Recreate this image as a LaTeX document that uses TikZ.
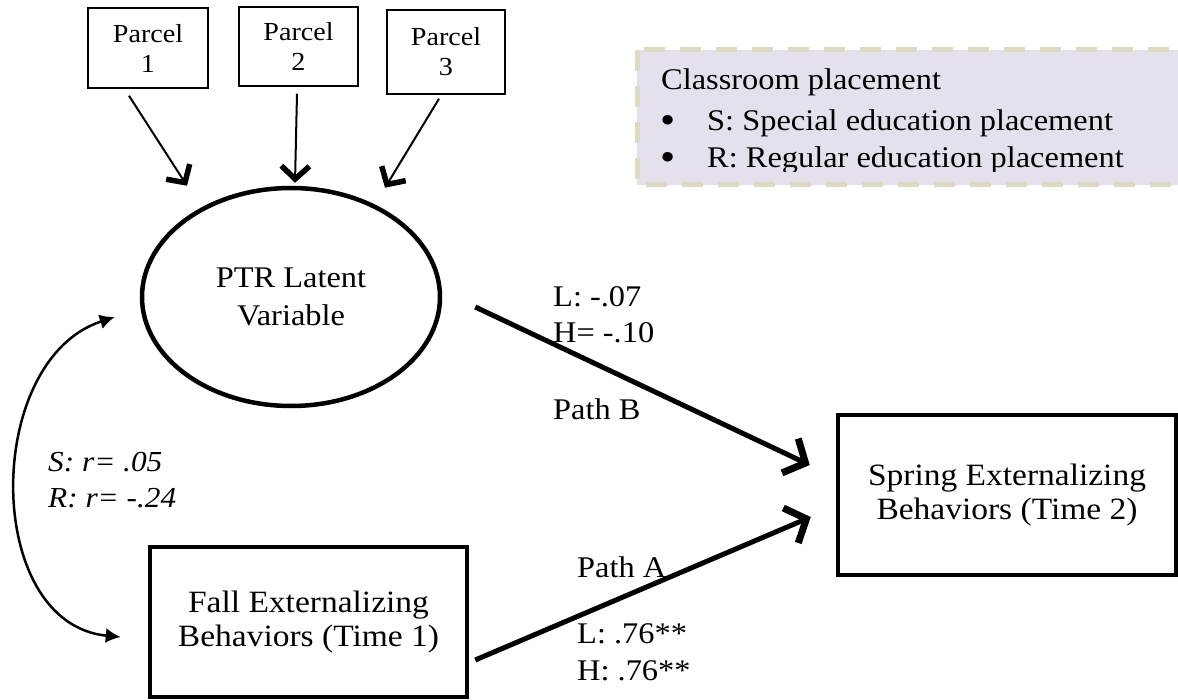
\documentclass[tikz,border=0pt]{standalone}
\usepackage{fontspec}
\setmainfont{Liberation Serif}[FakeStretch=1.08]
\usetikzlibrary{arrows.meta,shapes.geometric,calc}
\definecolor{legfill}{HTML}{E5E0EC}
\definecolor{legline}{HTML}{DDD9C3}
\begin{document}
\begin{tikzpicture}[x=1pt,y=-1pt,
  parcelbox/.style={draw, line width=1.5pt, align=center, inner sep=0pt,
    font=\fontsize{26}{30}\selectfont},
  varbox/.style={draw, line width=4.5pt, align=center, inner sep=0pt,
    font=\fontsize{31}{34}\selectfont},
  latent/.style={ellipse, draw, line width=4.5pt, align=center, inner sep=0pt,
    font=\fontsize{30}{38}\selectfont},
  lbl/.style={anchor=base west, inner sep=0pt, font=\fontsize{30}{36}\selectfont},
  ilbl/.style={anchor=base west, inner sep=0pt, font=\fontsize{29}{36}\selectfont\itshape},
  bul/.style={anchor=base, inner sep=0pt, font=\fontsize{40}{36}\selectfont},
  parr/.style={line width=2pt, -{Straight Barb[length=13pt,width=28pt,line width=5.5pt 0]}},
  patharr/.style={line width=5pt, -{Straight Barb[length=17pt,width=38pt,line width=7pt 0]}},
  corr/.style={line width=2.5pt, {Latex[length=15pt,width=15pt]}-{Latex[length=15pt,width=15pt]}}
]
\clip (0,0) rectangle (1178,700);

% legend
\draw[legline, line width=5pt, dash pattern=on 21pt off 15pt, fill=legfill]
  (637,50) rectangle (1200,185);
\begin{scope}
\clip (637,50) rectangle (1200,172);
\node[lbl] (legt) at (661,90) {Classroom placement};
\node[bul] (legb1) at (668,134) {•};
\node[lbl] (legs) at (707,131) {S: Special education placement};
\node[bul] (legb2) at (668,171) {•};
\node[lbl] (legr) at (707,168) {R: Regular education placement};
\end{scope}

% parcels
\node[parcelbox, minimum width=120pt, minimum height=80pt] (p1) at (148,48) {Parcel\\1};
\node[parcelbox, minimum width=119pt, minimum height=79pt] (p2) at (298.5,46.5) {Parcel\\2};
\node[parcelbox, minimum width=118pt, minimum height=84pt] (p3) at (446,52) {Parcel\\3};

% main nodes
\node[latent, minimum width=298pt, minimum height=218pt] (ptr) at (291,297) {PTR Latent\\Variable};
\node[varbox, minimum width=317pt, minimum height=150pt] (fall) at (308.5,622) {Fall Externalizing\\Behaviors (Time 1)};
\node[varbox, minimum width=338pt, minimum height=160pt] (spr) at (1007,495) {Spring Externalizing\\Behaviors (Time 2)};

% labels
\node[lbl] (lb1) at (553,307) {L: -.07};
\node[lbl] (lb2) at (553,343) {H= -.10};
\node[lbl] (pb) at (553,420) {Path B};
\node[lbl] (pa) at (577,577) {Path A};
\node[lbl] (la1) at (577,643) {L: .76**};
\node[lbl] (la2) at (577,680) {H: .76**};
\node[ilbl] (r1) at (48,471) {S: r= .05};
\node[ilbl] (r2) at (48,507) {R: r= -.24};

% parcel arrows
\coordinate (t1) at ($(ptr.north)+(-104,0)$);
\coordinate (t2) at ($(ptr.north)+(4,-3)$);
\coordinate (t3) at ($(ptr.north)+(94,2)$);
\draw[parr] ($(p1.south)+(-19,7)$) -- (t1);
\draw[parr] ($(p2.south)+(-1.5,7)$) -- (t2);
\draw[parr] ($(p3.south)+(-7,4)$) -- (t3);

% paths
\draw[patharr] ($(ptr.east)+(33,10)$) -- ($(spr.west)+(-26,-30)$);
\draw[patharr] ($(fall.east)+(6,38)$) -- ($(spr.west)+(-25,22)$);

% correlation
\coordinate (ct) at ($(ptr.west)+(-25,20)$);
\coordinate (cb) at ($(fall.west)+(-27,15)$);
\draw[corr] (ct) .. controls ($(ct)+(-132,43)$) and ($(cb)+(-138,-13)$) .. (cb);
\end{tikzpicture}
\end{document}
